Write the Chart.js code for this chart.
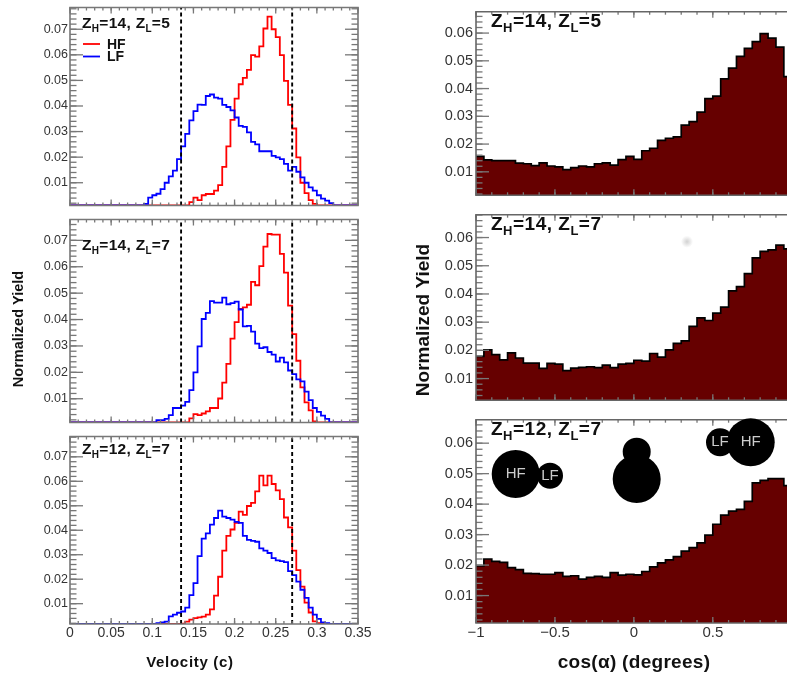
<!DOCTYPE html>
<html><head><meta charset="utf-8">
<style>
html,body{margin:0;padding:0;background:#fff;width:787px;height:681px;overflow:hidden}
#fig{position:relative;width:787px;height:681px;overflow:hidden;filter:blur(0.45px)}
canvas{position:absolute}
</style>
<script src="https://cdn.jsdelivr.net/npm/chart.js@4/dist/chart.umd.min.js"></script>
</head><body><div id="fig"></div>
<script>
const velocityTicks=[0,0.05,0.1,0.15,0.2,0.25,0.3,0.35];
const cosTicks=[-1,-0.5,0,0.5];
const yieldTicksLeft=[0.01,0.02,0.03,0.04,0.05,0.06,0.07];
const yieldTicksRight=[0.01,0.02,0.03,0.04,0.05,0.06];
const velocityCuts=[0.135,0.27];
const seriesNames=['HF','LF'];

const hf_14_5=[0,0,0,0,0,0,0,0,0,0, 0,0,0,0,0,0,0,0,0,0, 0,0,0,0,0,0,0,0,0,.0024,
.0042,.0032,.0051,.0056,.0056,.0069,.0091,.0162,.0242,.0346,
.0429,.0485,.051,.0541,.0599,.0593,.0633,.0703,.0749,.07,
.0669,.0599,.0498,.0404,.0312,.0199,.01,.0059,.0032,.0017,
0,0,0,0,0,0,0,0,0,0];
const lf_14_5=[0,0,0,0,0,0,0,0,0,0, 0,0,0,0,0,0,0,0,.0017,.0042,
.0051,.0057,.0075,.01,.0125,.0147,.0192,.0242,.0291,.0344,
.038,.0405,.0404,.0439,.0445,.0433,.0429,.0404,.0396,.0383,
.0355,.0322,.0318,.0297,.026,.025,.0223,.0223,.0223,.0205,
.0199,.0192,.0174,.0147,.0162,.0143,.0121,.01,.0082,.0069,
.0051,.0038,.003,.002,0,0,0,0,0,0];
const hf_14_7=[0,0,0,0,0,0,0,0,0,0, 0,0,0,0,0,0,0,0,0,0, 0,0,0,0,0,0,0,0,0,.0026,
.0042,.0038,.0044,.0052,.0065,.0065,.0101,.0161,.0232,.0328,
.039,.044,.0446,.0456,.0543,.053,.0602,.0676,.0724,.0722,
.0722,.0649,.0578,.0453,.0345,.0244,.0143,.0086,.0056,.0014,
0,0,0,0,0,0,0,0,0,0];
const lf_14_7=[0,0,0,0,0,0,0,0,0,0, 0,0,0,0,0,0,0,0,0,0,
0,.0019,.0019,.0024,.0038,.0065,.0065,.0074,.0088,.0133,
.02,.0298,.0402,.0425,.047,.0464,.0464,.0483,.0458,.0462,
.0468,.0438,.0374,.0376,.0354,.0309,.0292,.0295,.0277,.0267,
.0241,.0256,.0238,.0207,.0193,.0173,.0166,.0127,.0095,.0065,
.005,.0036,.0024,0,0,0,0,0,0,0];
const hf_12_7=[0,0,0,0,0,0,0,0,0,0, 0,0,0,0,0,0,0,0,0,0,
0,0,0,0,0,0,0,.0018,.0027,.0035,
.0041,.0044,.0047,.0055,.0077,.0133,.021,.0317,.0377,.0403,
.043,.0476,.0463,.0499,.0512,.0559,.0623,.0583,.0623,.0589,
.0563,.0527,.0452,.0412,.0317,.0237,.017,.0104,.0064,.0028,
.002,0,0,0,0,0,0,0,0,0];
const lf_12_7=[0,0,0,0,0,0,0,0,0,0, 0,0,0,0,0,0,0,0,0,0,
0,.002,.0024,.0027,.0048,.0055,.0063,.0068,.0084,.0135,
.0184,.0294,.0366,.0387,.0423,.045,.048,.0456,.045,.0443,
.0434,.043,.0377,.0361,.0357,.0353,.0326,.0317,.0307,.0286,
.0277,.0274,.027,.0233,.0217,.019,.0157,.0124,.0084,.0055,
.0038,.0024,.002,0,0,0,0,0,0,0];
const cos_14_5=[.0156,.0143,.014,.014,.014,.0131,.0129,.0122,.0132,.0121,
.0118,.0108,.0115,.0121,.0118,.0129,.0132,.0124,.0144,.0156,
.0145,.0176,.0185,.0213,.0221,.0226,.0268,.0281,.0315,.0364,
.0373,.0435,.0474,.0516,.0545,.0569,.0598,.0582,.0549,.0443];
const cos_14_7=[.0179,.0202,.0185,.0166,.0191,.0173,.0155,.0155,.0136,.0154,
.0151,.0128,.0137,.014,.0142,.0139,.0148,.0139,.0151,.0154,
.0165,.0162,.0189,.0176,.0202,.0225,.0234,.0285,.0315,.0306,
.0332,.0353,.0411,.0426,.0472,.0528,.0551,.0556,.0573,.056];
const cos_12_7=[.0197,.022,.0212,.0209,.0192,.0185,.0173,.0172,.017,.017,
.0175,.0163,.0165,.0154,.016,.0163,.016,.0175,.0167,.017,
.0168,.0179,.0194,.0207,.0217,.0228,.0246,.0257,.0273,.0298,
.0334,.0364,.0377,.0383,.0409,.047,.0478,.0484,.0484,.0461];

const VEL_W=0.005, COS_W=0.05;
const FONT='"Liberation Sans",Arial,sans-serif';
function range(a,b,s){const o=[];const n=Math.round((b-a)/s);for(let i=0;i<=n;i++)o.push(+(a+i*s).toFixed(4));return o;}
function steps(vals,x0,w,base){const p=[];vals.forEach((v,i)=>{const y=Math.max(v,base);p.push({x:x0+i*w,y},{x:x0+(i+1)*w,y});});return p;}

function spaced(ctx,t,x,y,ls){ctx.letterSpacing=ls+'px';ctx.fillText(t,x,y);const w=ctx.measureText(t).width;ctx.letterSpacing='0px';return w;}
function drawZ(ctx,h,l,x,y,size,ls){
  ctx.save();ctx.fillStyle='#111';ctx.textAlign='left';ctx.textBaseline='alphabetic';
  const big='bold '+size+'px '+FONT, small='bold '+Math.round(size*0.66)+'px '+FONT, dy=size*0.27;
  const parts=[['Z',0],['H',1],['='+h+', Z',0],['L',1],['='+l,0]];
  parts.forEach(([t,sub])=>{ctx.font=sub?small:big;x+=spaced(ctx,t,x,y+(sub?dy:0),ls);});
  ctx.restore();
}
const panelPlugin={id:'panel',
  afterDatasetsDraw(c,a,o){
    const ctx=c.ctx,ca=c.chartArea,sx=c.scales.x,sy=c.scales.y;
    ctx.save();
    // ROOT-style inward ticks and frame
    ctx.strokeStyle='#777';
    ctx.lineWidth=1.3;
    const yTick=(v,len)=>{const p=sy.getPixelForValue(v);
      ctx.beginPath();ctx.moveTo(ca.left,p);ctx.lineTo(ca.left+len,p);ctx.stroke();
      ctx.beginPath();ctx.moveTo(o.rightEdge,p);ctx.lineTo(o.rightEdge-len,p);ctx.stroke();};
    const xTick=(v,len)=>{const p=sx.getPixelForValue(v);
      ctx.beginPath();ctx.moveTo(p,ca.bottom);ctx.lineTo(p,ca.bottom-len);ctx.stroke();
      ctx.beginPath();ctx.moveTo(p,ca.top);ctx.lineTo(p,ca.top+len);ctx.stroke();};
    o.yMinor.forEach(v=>{if(v>sy.min&&v<sy.max)yTick(v,6.5)});
    o.yMajor.forEach(v=>yTick(v,13));
    o.xMinor.forEach(v=>xTick(v,3));
    o.xMajor.forEach(v=>xTick(v,6));
    ctx.lineWidth=1.6;ctx.strokeStyle=o.frame;
    ctx.beginPath();ctx.moveTo(o.rightEdge,ca.top);ctx.lineTo(ca.left,ca.top);ctx.lineTo(ca.left,ca.bottom);ctx.lineTo(o.rightEdge,ca.bottom);
    if(o.closeRight){ctx.closePath();}
    ctx.stroke();
    ctx.restore();
    if(o.draw)o.draw(c,ctx);
  }
};
function makePanel(p){
  const cv=document.createElement('canvas');
  const padTop=4;
  const H=p.bottom-p.top+padTop+p.below;
  cv.width=p.W;cv.height=H;cv.style.left=p.left+'px';cv.style.top=(p.top-padTop)+'px';
  cv.style.width=p.W+'px';cv.style.height=H+'px';
  document.getElementById('fig').appendChild(cv);
  const tickFont=p.tickFont;
  return new Chart(cv,{
    type:'line',
    data:{datasets:p.datasets},
    plugins:[panelPlugin],
    options:{responsive:false,animation:false,devicePixelRatio:1,
      parsing:false,normalized:true,
      events:[],
      layout:{padding:{top:padTop,right:p.padRight,left:0,bottom:0}},
      elements:{point:{radius:0},line:{tension:0,borderCapStyle:'butt',borderJoinStyle:'miter'}},
      plugins:{legend:{display:false},tooltip:{enabled:false},
        panel:{rightEdge:p.rightEdge,closeRight:p.closeRight,frame:p.frame,
          yMajor:p.yMajor,yMinor:p.yMinor,xMajor:p.xMajor,xMinor:p.xMinor,draw:p.draw}},
      scales:{
        x:{type:'linear',min:p.xMin,max:p.xMax,
          grid:{display:false,drawTicks:false},border:{display:false},
          afterBuildTicks(s){s.ticks=p.xMajor.map(value=>({value}));},
          afterFit(s){s.height=p.below;},
          ticks:{display:p.showX,autoSkip:false,maxRotation:0,minRotation:0,padding:p.xPad,
            color:'#333',font:{family:FONT,size:p.xFontSize},
            callback(v){return String(v).replace('-','\u2212');}}},
        y:{type:'linear',min:p.yMin,max:p.yMax,
          grid:{display:false,drawTicks:false},border:{display:false},
          afterBuildTicks(s){s.ticks=p.yMajor.map(value=>({value}));},
          afterFit(s){s.width=p.axisW;},
          ticks:{autoSkip:false,padding:p.yPad,color:'#333',font:{family:FONT,size:tickFont},
            callback(v){return v.toFixed(2);}}}
      }
    }
  });
}
function leftSets(hf,lf,min,max){
  const cuts=velocityCuts.map(x=>({data:[{x,y:min},{x,y:max}],borderColor:'#000',borderWidth:1.9,borderDash:[4,3],order:0}));
  return [
    {label:seriesNames[0],data:steps(hf,0,VEL_W,min),borderColor:'#ff0000',borderWidth:1.8,order:2},
    {label:seriesNames[1],data:steps(lf,0,VEL_W,min),borderColor:'#0000ff',borderWidth:1.8,order:1},
    ...cuts];
}
function rightSets(vals,min){
  return [{label:'yield',data:steps(vals,-1,COS_W,min),borderColor:'#000',borderWidth:1.7,
    backgroundColor:'#660000',fill:'start',order:1}];
}
const leftBase={left:0,W:382,axisW:70,padRight:24,rightEdge:358,closeRight:true,frame:'#777',
  xMin:0,xMax:0.35,tickFont:12.5,yPad:2,xFontSize:14,xPad:1,
  yMajor:yieldTicksLeft,yMinor:range(0.002,0.078,0.002),xMajor:velocityTicks,xMinor:range(0,0.35,0.01)};
const rightBase={left:410,W:377,axisW:66,padRight:0,rightEdge:787,closeRight:false,frame:'#666',
  xMin:-1,xMax:0.97,tickFont:14.5,yPad:3,xFontSize:15,xPad:1,
  yMajor:yieldTicksRight,yMinor:range(0.002,0.068,0.002),xMajor:cosTicks,xMinor:range(-1,0.9,0.1)};

// left column
makePanel({...leftBase,top:2,bottom:212,below:3,yMin:.0011,yMax:.0785,showX:false,
  datasets:leftSets(hf_14_5,lf_14_5,.0011,.0785),
  draw(c,ctx){const p=82,cy=26;drawZ(ctx,14,5,p,cy+4,15.5,0.3);
    const ds=c.data.datasets;
    [[50,ds[0]],[62.5,ds[1]]].forEach(([y,d])=>{
      ctx.save();ctx.strokeStyle=d.borderColor;ctx.lineWidth=1.8;
      ctx.beginPath();ctx.moveTo(83,y-4);ctx.lineTo(100,y-4);ctx.stroke();
      ctx.fillStyle='#111';ctx.font='bold 14px '+FONT;ctx.textAlign='left';ctx.textBaseline='middle';
      ctx.fillText(d.label,107,y-3);ctx.restore();});
  }});
makePanel({...leftBase,top:214,bottom:429,below:3,yMin:.001,yMax:.0779,showX:false,
  datasets:leftSets(hf_14_7,lf_14_7,.001,.0779),
  draw(c,ctx){drawZ(ctx,14,7,82,22+214+2-212+14,15.5,0.3);
    ctx.save();ctx.translate(19,329-210);ctx.rotate(-Math.PI/2);ctx.fillStyle='#111';
    ctx.font='bold 14.5px '+FONT;ctx.textAlign='center';ctx.textBaseline='middle';
    ctx.fillText('Normalized Yield',0,0);ctx.restore();}});
makePanel({...leftBase,top:431,bottom:624,below:57,yMin:.0017,yMax:.0783,showX:true,
  datasets:leftSets(hf_12_7,lf_12_7,.0017,.0783),
  draw(c,ctx){drawZ(ctx,12,7,82,452-427+2,15.5,0.3);
    ctx.save();ctx.fillStyle='#111';ctx.font='bold 15px '+FONT;ctx.textAlign='center';ctx.textBaseline='middle';
    ctx.letterSpacing='0.7px';ctx.fillText('Velocity (c)',190,663-427);ctx.restore();}});

// right column
makePanel({...rightBase,top:4,bottom:204,below:3,yMin:.00154,yMax:.0677,showX:false,
  datasets:rightSets(cos_14_5,.00154),
  draw(c,ctx){drawZ(ctx,14,5,81,27,19,0.5);}});
makePanel({...rightBase,top:207,bottom:409,below:3,yMin:.0023,yMax:.0681,showX:false,
  datasets:rightSets(cos_14_7,.0023),
  draw(c,ctx){drawZ(ctx,14,7,81,27,19,0.5);
    const g=ctx.createRadialGradient(277,38.7,0,277,38.7,6);g.addColorStop(0,'rgba(190,190,190,.7)');g.addColorStop(1,'rgba(190,190,190,0)');
    ctx.fillStyle=g;ctx.fillRect(268,30,18,18);
    ctx.save();ctx.translate(14,117);ctx.rotate(-Math.PI/2);ctx.fillStyle='#111';
    ctx.font='bold 19px '+FONT;ctx.textAlign='center';ctx.textBaseline='middle';
    ctx.fillText('Normalized Yield',0,0);ctx.restore();}});
makePanel({...rightBase,top:412,bottom:623,below:57,yMin:.001,yMax:.0677,showX:true,
  datasets:rightSets(cos_12_7,.001),
  draw(c,ctx){drawZ(ctx,12,7,81,27,19,0.5);
    const ox=410,oy=408;
    ctx.save();
    const blobs=[[515.7,474,24,'HF'],[550,475.7,13,'LF'],[636.7,479,24,''],[636.7,451.7,14,''],[720,442.3,14,'LF'],[750.7,442.3,24,'HF']];
    blobs.forEach(([x,y,r])=>{ctx.fillStyle='#000';ctx.beginPath();ctx.arc(x-ox,y-oy,r,0,Math.PI*2);ctx.fill();});
    ctx.fillStyle='#ccc';ctx.font='15px '+FONT;ctx.textAlign='center';ctx.textBaseline='middle';
    blobs.forEach(([x,y,r,t])=>{if(t)ctx.fillText(t,x-ox,y-oy);});
    ctx.fillStyle='#111';ctx.font='bold 19px '+FONT;ctx.letterSpacing='0.3px';
    ctx.fillText('cos(\u03b1) (degrees)',634-ox,663-oy);
    ctx.restore();}});
</script></body></html>
